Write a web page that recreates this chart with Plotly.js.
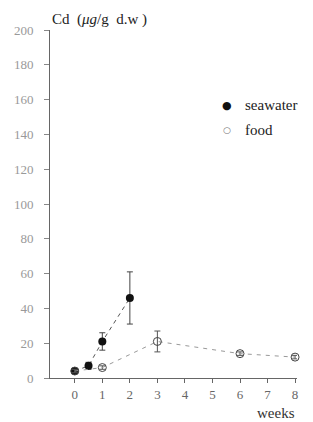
<!DOCTYPE html>
<html><head><meta charset="utf-8">
<script src="https://cdn.plot.ly/plotly-3.0.1.min.js"></script>
<style>html,body{margin:0;padding:0;background:#fff}</style>
</head><body>
<div id="chart" style="width:313px;height:422px"></div>
<script>
const seaWeeks = [0, 0.5, 1, 2];
const seaCd = [4, 7, 21, 46];
const seaErr = [1, 2, 5, 15];
const foodWeeks = [0, 1, 3, 6, 8];
const foodCd = [4, 6, 21, 14, 12];
const foodErr = [1, 1, 6, 1, 1];
const xTicks = [0, 1, 2, 3, 4, 5, 6, 7, 8];
const yTicks = [0, 20, 40, 60, 80, 100, 120, 140, 160, 180, 200];
const legendNames = ['seawater', 'food'];
const legendSymbols = ['●', '○'];

const serif = "Liberation Serif, DejaVu Serif, serif";
const traces = [
  {x: seaWeeks, y: seaCd, name: legendNames[0], mode: 'lines+markers', type: 'scatter',
   line: {color: '#555', width: 1, dash: '4px,4px'},
   marker: {symbol: 'circle', size: 8, color: '#111'},
   error_y: {type: 'data', array: seaErr, visible: true, color: '#444', thickness: 1, width: 3},
   cliponaxis: false},
  {x: foodWeeks, y: foodCd, name: legendNames[1], mode: 'lines+markers', type: 'scatter',
   line: {color: '#999', width: 1, dash: '4px,5px'},
   marker: {symbol: 'circle-open', size: 8, color: '#444', line: {width: 1}},
   error_y: {type: 'data', array: foodErr, visible: true, color: '#555', thickness: 1, width: 3},
   cliponaxis: false}
];
const legY = [0.784, 0.713];
const legendAnn = [];
legendNames.forEach((n, i) => {
  legendAnn.push({text: legendSymbols[i], xref: 'paper', yref: 'paper', x: 0.717, y: legY[i],
    xanchor: 'center', yanchor: 'middle', showarrow: false,
    font: {family: 'DejaVu Sans, sans-serif', size: i === 0 ? 11 : 9, color: i === 0 ? '#111' : '#777'}});
  legendAnn.push({text: n, xref: 'paper', yref: 'paper', x: 0.781, y: legY[i],
    xanchor: 'left', yanchor: 'middle', showarrow: false,
    font: {family: serif, size: 15, color: '#222'}});
});
const layout = {
  width: 313, height: 422,
  margin: {l: 50, r: 16, t: 30, b: 44},
  paper_bgcolor: '#fff', plot_bgcolor: '#fff',
  font: {family: serif, color: '#777', size: 12},
  showlegend: false,
  xaxis: {range: [-0.9, 8.07], tickvals: xTicks, ticktext: xTicks.map(String), automargin: false,
          showgrid: false, zeroline: false, showline: true, linecolor: '#666', linewidth: 1,
          ticks: 'outside', ticklen: 4, tickcolor: '#666', tickfont: {size: 13, color: '#666'}},
  yaxis: {range: [0, 200], tickvals: yTicks, ticktext: yTicks.map(String), automargin: false,
          showgrid: false, zeroline: false, showline: true, linecolor: '#666', linewidth: 1,
          ticks: 'outside', ticklen: 5, tickcolor: '#888', ticklabelstandoff: 8,
          tickfont: {size: 13, color: '#999'}},
  annotations: [
    {text: 'Cd  (<i>μg</i>/g  d.w )', xref: 'paper', yref: 'paper', x: 0.0, y: 1.0, yshift: 11,
     xanchor: 'left', yanchor: 'middle', showarrow: false, font: {family: serif, size: 15, color: '#222'}},
    {text: 'weeks', xref: 'paper', yref: 'paper', x: 1.0, y: 0, yshift: -35,
     xanchor: 'right', yanchor: 'middle', showarrow: false, font: {family: serif, size: 15, color: '#333'}}
  ].concat(legendAnn)
};
Plotly.newPlot('chart', traces, layout, {displayModeBar: false, staticPlot: true});
</script>
</body></html>
